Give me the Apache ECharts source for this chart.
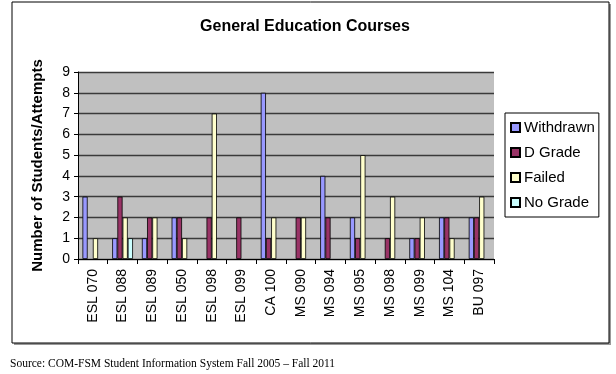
<!DOCTYPE html>
<html><head><meta charset="utf-8">
<script src="https://cdn.jsdelivr.net/npm/echarts@6/dist/echarts.min.js"></script>
<style>html,body{margin:0;padding:0;background:#fff}#c{width:616px;height:374px}</style>
</head><body><div id="c"></div>
<script>
const categories = ['ESL 070','ESL 088','ESL 089','ESL 050','ESL 098','ESL 099','CA 100','MS 090','MS 094','MS 095','MS 098','MS 099','MS 104','BU 097'];
const withdrawn = [3,1,1,2,0,0,8,0,4,2,0,1,2,2];
const dGrade    = [0,3,2,2,2,2,1,2,2,1,1,1,2,2];
const failed    = [1,2,2,1,7,0,2,2,0,5,3,2,1,3];
const noGrade   = [0,1,0,0,0,0,0,0,0,0,0,0,0,0];
const seriesNames = ['Withdrawn','D Grade','Failed','No Grade'];
const colors = ['#9999ff','#993366','#ffffcc','#ccffff'];

const chart = echarts.init(document.getElementById('c'));
const mk = (name, data, color) => ({
  name, type:'bar', data: data.map(v => v === 0 ? '-' : v), barGap:'0%', barCategoryGap:'30%',
  itemStyle:{color, borderColor:'#000', borderWidth:0.8}
});
chart.setOption({
  animation:false,
  textStyle:{fontFamily:'Liberation Sans, Arial, sans-serif'},
  title:{text:'General Education Courses', left:300, top:14, textAlign:'center',
    textStyle:{fontSize:16, fontWeight:'bold', color:'#000'}},
  graphic:[
    {type:'rect', shape:{x:14,y:4,width:597,height:341}, style:{fill:'#999'}, z:-2},
    {type:'rect', shape:{x:12,y:2,width:597,height:341}, style:{fill:'#fff', stroke:'#000', lineWidth:1}, z:-1},
    {type:'text', left:10, top:358, style:{text:'Source: COM-FSM Student Information System Fall 2005 \u2013 Fall 2011',
      font:'11.5px "Liberation Serif", "Times New Roman", serif', fill:'#000'}}
  ],
  legend:{data:seriesNames, orient:'vertical', left:505, top:113, itemWidth:9, itemHeight:9, itemGap:10,
    borderColor:'#000', borderWidth:1, padding:[7,4,7,5], icon:'rect',
    textStyle:{fontSize:15, color:'#000', padding:[0,0,0,-1]}},
  grid:{left:78, top:72, width:416, height:187, containLabel:false, show:true, backgroundColor:'#c0c0c0', borderWidth:0},
  xAxis:{type:'category', data:categories,
    axisLine:{lineStyle:{color:'#000'}},
    axisTick:{show:true, length:5, lineStyle:{color:'#000'}},
    axisLabel:{rotate:90, interval:0, fontSize:14, color:'#000', margin:10}},
  yAxis:{type:'value', min:0, max:9, interval:1,
    name:'Number of Students/Attempts', nameLocation:'middle', nameGap:33,
    nameTextStyle:{fontSize:15, fontWeight:'bold', color:'#000'},
    axisLine:{show:true, lineStyle:{color:'#000'}},
    axisTick:{show:true, length:4, lineStyle:{color:'#000'}},
    axisLabel:{fontSize:14, color:'#000', margin:8},
    splitLine:{lineStyle:{color:'#3a3a3a', width:1.3}}},
  series:[mk(seriesNames[0],withdrawn,colors[0]), mk(seriesNames[1],dGrade,colors[1]),
          mk(seriesNames[2],failed,colors[2]), mk(seriesNames[3],noGrade,colors[3])]
});
</script></body></html>
